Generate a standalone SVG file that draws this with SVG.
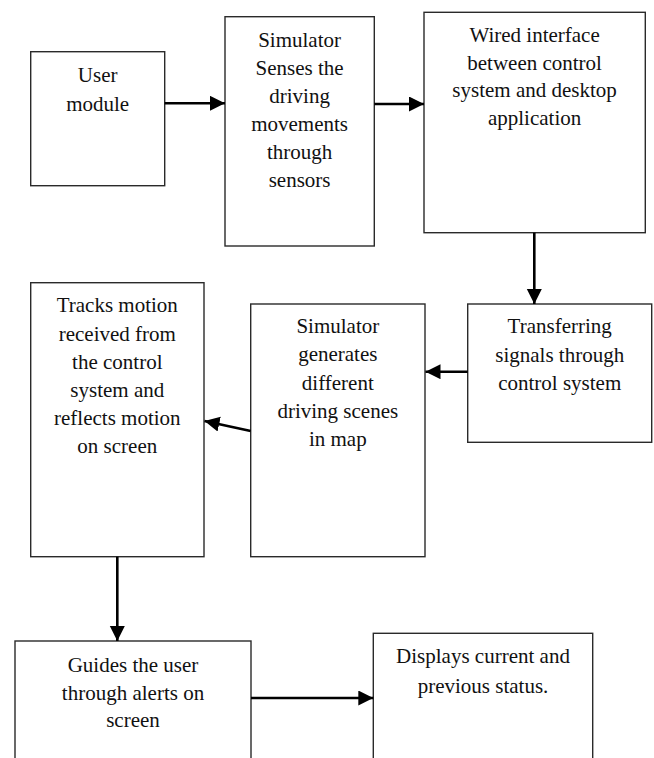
<svg xmlns="http://www.w3.org/2000/svg" width="654" height="758" viewBox="0 0 654 758">
<style>
.box{fill:#fff;stroke:#2a2a2a;stroke-width:1.4}
.t{font-family:"Liberation Serif","Times New Roman",serif;font-size:21px;fill:#111;text-anchor:middle}
.c{stroke:#000;stroke-width:2.6;fill:none;marker-end:url(#ah)}
</style>
<defs>
<marker id="ah" markerUnits="userSpaceOnUse" markerWidth="16" markerHeight="16" refX="15" refY="7.5" orient="auto">
<path d="M0,0 L15,7.5 L0,15 z" fill="#000"/>
</marker>
</defs>
<rect width="654" height="758" fill="#fff"/>
<g id="n1">
<rect class="box" x="30.7" y="51.7" width="134" height="134"/>
<text class="t" x="97.7" y="81.7">User</text>
<text class="t" x="97.7" y="111">module</text>
</g>
<g id="n2">
<rect class="box" x="225" y="16.7" width="149.3" height="229.3"/>
<text class="t" x="299.6" y="47"><tspan x="299.6">Simulator</tspan><tspan x="299.6" dy="28">Senses the</tspan><tspan x="299.6" dy="28">driving</tspan><tspan x="299.6" dy="28">movements</tspan><tspan x="299.6" dy="28">through</tspan><tspan x="299.6" dy="28">sensors</tspan></text>
</g>
<g id="n3">
<rect class="box" x="424" y="12.3" width="221.3" height="220.4"/>
<text class="t" x="534.6" y="41.7"><tspan x="534.6">Wired interface</tspan><tspan x="534.6" dy="27.8">between control</tspan><tspan x="534.6" dy="27.8">system and desktop</tspan><tspan x="534.6" dy="27.8">application</tspan></text>
</g>
<g id="n4">
<rect class="box" x="467.7" y="304" width="184" height="138.3"/>
<text class="t" x="559.7" y="333.3"><tspan x="559.7">Transferring</tspan><tspan x="559.7" dy="28.3">signals through</tspan><tspan x="559.7" dy="28.3">control system</tspan></text>
</g>
<g id="n5">
<rect class="box" x="250.7" y="304" width="174.3" height="252.7"/>
<text class="t" x="337.8" y="333.3"><tspan x="337.8">Simulator</tspan><tspan x="337.8" dy="28.1">generates</tspan><tspan x="337.8" dy="28.1">different</tspan><tspan x="337.8" dy="28.1">driving scenes</tspan><tspan x="337.8" dy="28.1">in map</tspan></text>
</g>
<g id="n6">
<rect class="box" x="30.7" y="282.7" width="173.3" height="274"/>
<text class="t" x="117.3" y="312.3"><tspan x="117.3">Tracks motion</tspan><tspan x="117.3" dy="28.2">received from</tspan><tspan x="117.3" dy="28.2">the control</tspan><tspan x="117.3" dy="28.2">system and</tspan><tspan x="117.3" dy="28.2">reflects motion</tspan><tspan x="117.3" dy="28.2">on screen</tspan></text>
</g>
<g id="n7">
<rect class="box" x="15" y="641" width="236" height="130"/>
<text class="t" x="133" y="672"><tspan x="133">Guides the user</tspan><tspan x="133" dy="27.7">through alerts on</tspan><tspan x="133" dy="27.7">screen</tspan></text>
</g>
<g id="n8">
<rect class="box" x="373.3" y="633.3" width="219.4" height="140"/>
<text class="t" x="483" y="663"><tspan x="483">Displays current and</tspan><tspan x="483" dy="29.5">previous status.</tspan></text>
</g>
<g id="connectors">
<line class="c" x1="164.7" y1="103.3" x2="225" y2="103.3"/>
<line class="c" x1="374.3" y1="104" x2="424" y2="104"/>
<line class="c" x1="534.3" y1="232.7" x2="534.3" y2="304"/>
<line class="c" x1="467.7" y1="371.7" x2="425.5" y2="371.7"/>
<line class="c" x1="250.7" y1="431" x2="204.5" y2="421"/>
<line class="c" x1="117.3" y1="556.7" x2="117.3" y2="641"/>
<line class="c" x1="251" y1="698" x2="373.3" y2="698"/>
</g>
</svg>
